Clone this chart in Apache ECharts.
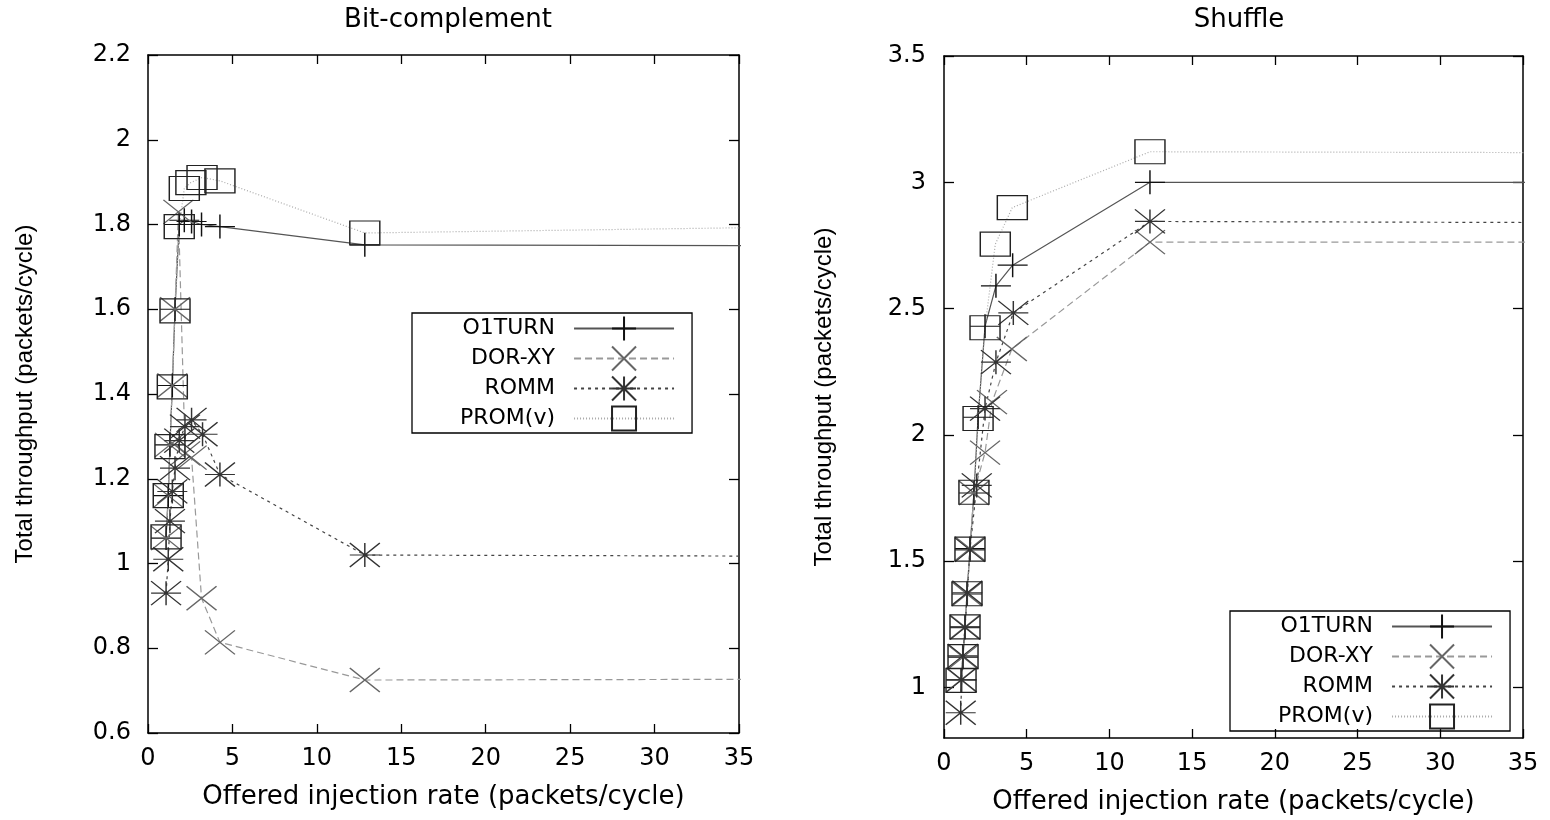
<!DOCTYPE html>
<html>
<head>
<meta charset="utf-8">
<script src="https://cdn.jsdelivr.net/npm/echarts@6/dist/echarts.min.js"></script>
<style>html,body{margin:0;padding:0;background:#fff;}#c{width:1550px;height:820px;}</style>
</head>
<body>
<div id="c"></div>
<script>
// ---------- DATA ----------
const seriesNames = ['O1TURN', 'DOR-XY', 'ROMM', 'PROM(v)'];
const titles = ['Bit-complement', 'Shuffle'];
const xAxisName = 'Offered injection rate (packets/cycle)';
const yAxisName = 'Total throughput (packets/cycle)';
const xTicks = [0, 5, 10, 15, 20, 25, 30, 35];
const leftYTicks = [0.6, 0.8, 1, 1.2, 1.4, 1.6, 1.8, 2, 2.2];
const rightYTicks = [1, 1.5, 2, 2.5, 3, 3.5];
const rightYMin = 0.8;

// Bit-complement
const bcO1turn = [[1.07,1.06],[1.2,1.16],[1.3,1.28],[1.44,1.42],[1.6,1.6],[1.85,1.8],[2.15,1.81],[2.58,1.807],[3.17,1.80],[4.26,1.795],[12.84,1.752],[40,1.75]];
const bcDorxy  = [[1.07,1.06],[1.2,1.16],[1.3,1.28],[1.44,1.42],[1.6,1.6],[1.8,1.83],[2.2,1.26],[2.58,1.25],[3.17,0.918],[4.26,0.814],[12.84,0.725],[40,0.727]];
const bcRomm   = [[1.07,0.93],[1.2,1.01],[1.3,1.10],[1.44,1.17],[1.6,1.225],[1.85,1.29],[2.19,1.323],[2.58,1.339],[3.23,1.305],[4.26,1.21],[12.84,1.02],[40,1.017]];
const bcProm   = [[1.07,1.063],[1.2,1.16],[1.3,1.276],[1.44,1.417],[1.6,1.596],[1.85,1.795],[2.15,1.885],[2.54,1.899],[3.2,1.911],[4.26,1.903],[12.84,1.78],[40,1.795]];

// Shuffle
const shO1turn = [[1.03,1.03],[1.15,1.12],[1.27,1.24],[1.39,1.37],[1.57,1.55],[1.81,1.77],[2.06,2.07],[2.48,2.43],[3.14,2.59],[4.15,2.672],[12.45,3.0],[40,3.0]];
const shDorxy  = [[1.03,1.03],[1.15,1.12],[1.27,1.24],[1.39,1.37],[1.57,1.55],[1.81,1.77],[2.48,1.93],[2.9,2.13],[4.1,2.34],[12.45,2.763],[40,2.763]];
const shRomm   = [[1.01,0.90],[1.07,1.03],[1.13,1.125],[1.27,1.237],[1.41,1.375],[1.57,1.545],[1.98,1.80],[2.48,2.104],[3.14,2.288],[4.19,2.483],[12.45,2.845],[40,2.84]];
const shProm   = [[1.03,1.028],[1.15,1.122],[1.27,1.24],[1.39,1.371],[1.57,1.548],[1.81,1.773],[2.06,2.065],[2.48,2.424],[3.1,2.755],[4.13,2.90],[12.45,3.121],[40,3.117]];

// ---------- STYLES ----------
const HFONT = 'DejaVu Sans';
const styles = {
  'O1TURN':  { symbol: 'path://M0,12L30,12M15,0L15,24', mColor: '#111', lColor: '#555', type: 'solid' },
  'DOR-XY':  { symbol: 'path://M0,0L30,24M30,0L0,24', mColor: '#666', lColor: '#999', type: [7, 4] },
  'ROMM':    { symbol: 'path://M0,12L30,12M15,0L15,24M0,0L30,24M30,0L0,24', mColor: '#333', lColor: '#444', type: [3, 4] },
  'PROM(v)': { symbol: 'rect', mColor: '#222', lColor: '#aaa', type: [1, 2] }
};

function mkSeries(name, data, gi) {
  const s = styles[name];
  return {
    name: name, type: 'line', xAxisIndex: gi, yAxisIndex: gi, data: data,
    symbol: s.symbol, symbolSize: [30, 24], showAllSymbol: true, clip: true,
    itemStyle: { color: 'none', borderColor: s.mColor, borderWidth: 1.3 },
    lineStyle: { color: s.lColor, width: 1.2, type: s.type },
    emphasis: { disabled: true }, animation: false
  };
}

const grids = [
  { left: 148, top: 55, width: 591, height: 678 },
  { left: 944, top: 56, width: 579, height: 686 }
];

function xMain(gi) {
  return {
    type: 'value', gridIndex: gi, min: 0, max: 35, interval: 5, position: 'bottom',
    name: xAxisName, nameLocation: 'middle', nameGap: 51,
    nameTextStyle: { fontFamily: HFONT, fontSize: 26, color: '#000' },
    axisLine: { show: true, onZero: false, lineStyle: { color: '#000', width: 1.5 } },
    axisTick: { show: true, inside: true, length: 9, lineStyle: { color: '#000', width: 1.3 } },
    axisLabel: { margin: 14, fontFamily: HFONT, fontSize: 24, color: '#000', customValues: xTicks },
    splitLine: { show: false }
  };
}
function xMirror(gi) {
  return {
    type: 'value', gridIndex: gi, min: 0, max: 35, interval: 5, position: 'top',
    axisLine: { show: true, onZero: false, lineStyle: { color: '#000', width: 1.5 } },
    axisTick: { show: true, inside: true, length: 9, lineStyle: { color: '#000', width: 1.3 } },
    axisLabel: { show: false }, splitLine: { show: false }
  };
}
function yAxisDef(gi, pos, ticks, min, max, nameGap, labelMargin, mirror) {
  const a = {
    type: 'value', gridIndex: gi, min: min, max: max, position: pos,
    axisLine: { show: true, onZero: false, lineStyle: { color: '#000', width: 1.5 } },
    axisTick: { show: true, inside: true, length: 10, customValues: ticks, lineStyle: { color: '#000', width: 1.3 } },
    axisLabel: mirror ? { show: false } : { margin: labelMargin, fontFamily: HFONT, fontSize: 24, color: '#000', customValues: ticks },
    splitLine: { show: false }
  };
  if (!mirror) {
    a.name = yAxisName; a.nameLocation = 'middle'; a.nameGap = nameGap;
    a.nameTextStyle = { fontFamily: 'Liberation Sans', fontSize: 24, color: '#000' };
  }
  return a;
}

function mkLegend(left, top) {
  return {
    show: true, orient: 'vertical', align: 'right', left: left, top: top,
    itemWidth: 100, itemHeight: 30, itemGap: 1, selectedMode: false,
    padding: [1, 17, 0, 48], borderColor: '#000', borderWidth: 1.3,
    textStyle: { fontFamily: HFONT, fontSize: 22, color: '#000', padding: [0, 14, 0, 0] },
    data: seriesNames
  };
}

const option = {
  backgroundColor: '#fff',
  animation: false,
  title: [
    { text: titles[0], left: 443, top: 2, textAlign: 'center', textStyle: { fontFamily: HFONT, fontSize: 26, fontWeight: 'normal', color: '#000' } },
    { text: titles[1], left: 1234, top: 2, textAlign: 'center', textStyle: { fontFamily: HFONT, fontSize: 26, fontWeight: 'normal', color: '#000' } }
  ],
  grid: grids,
  xAxis: [xMain(0), xMain(1), xMirror(0), xMirror(1)],
  yAxis: [
    yAxisDef(0, 'left', leftYTicks, 0.6, 2.2, 111, 17, false),
    yAxisDef(1, 'left', rightYTicks, rightYMin, 3.5, 108, 18, false),
    yAxisDef(0, 'right', leftYTicks, 0.6, 2.2, 0, 0, true),
    yAxisDef(1, 'right', rightYTicks, rightYMin, 3.5, 0, 0, true)
  ],
  legend: [mkLegend(412, 313), mkLegend(1230, 611)],
  series: [
    mkSeries('O1TURN', bcO1turn, 0), mkSeries('DOR-XY', bcDorxy, 0), mkSeries('ROMM', bcRomm, 0), mkSeries('PROM(v)', bcProm, 0),
    mkSeries('O1TURN', shO1turn, 1), mkSeries('DOR-XY', shDorxy, 1), mkSeries('ROMM', shRomm, 1), mkSeries('PROM(v)', shProm, 1)
  ]
};
const chart = echarts.init(document.getElementById('c'), null, { renderer: 'canvas' });
chart.setOption(option);
</script>
</body>
</html>
